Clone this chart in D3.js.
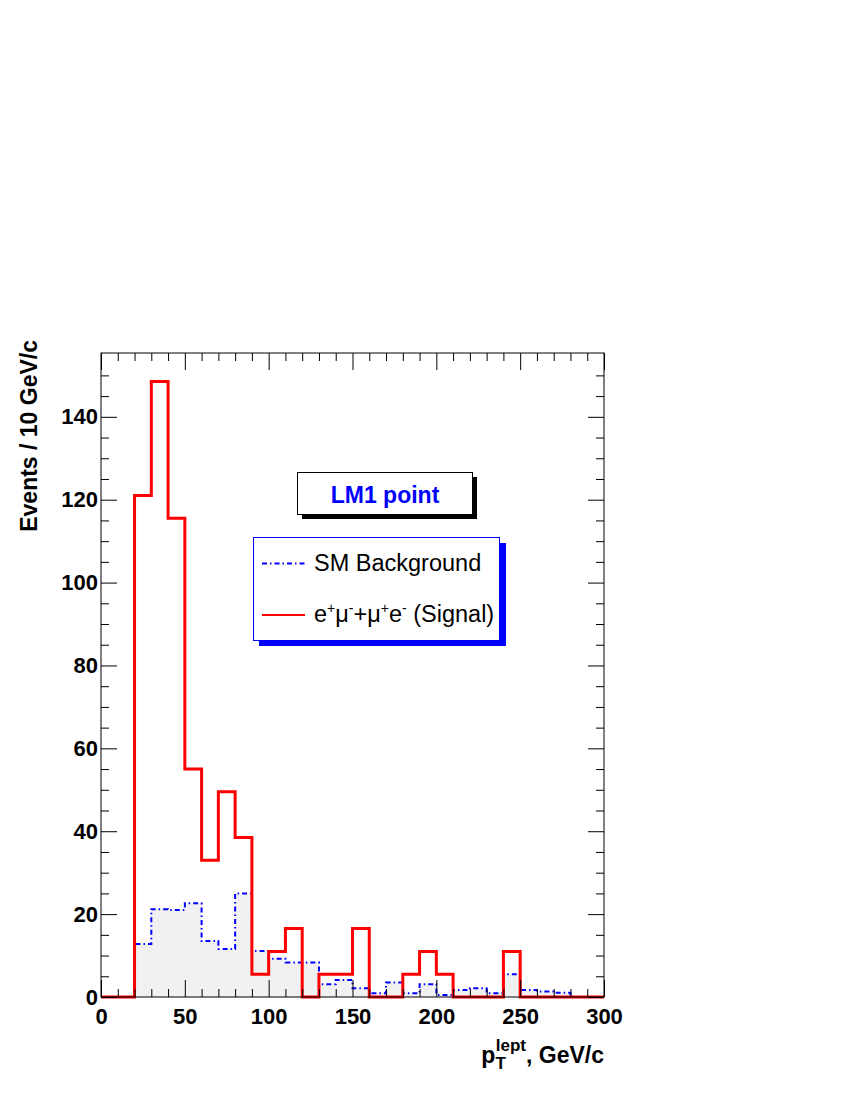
<!DOCTYPE html>
<html>
<head>
<meta charset="utf-8">
<script src="https://cdn.jsdelivr.net/npm/d3@7/dist/d3.min.js"></script>
<style>
	body { margin: 0; background: #fff; }
	svg { display: block; }
	text { font-family: "Liberation Sans", Arial, Helvetica, sans-serif; }
</style>
</head>
<body>
<div id="chart"></div>
<script>
// Bin edges (GeV/c), 10 GeV bins from 0 to 300
var binEdges = d3.range(0, 301, 10);
// SM background per bin
var background = [0, 0, 12.8, 21.2, 21.0, 22.6, 13.5, 11.6, 25.0, 11.1,
	9.2, 8.3, 8.3, 3.1, 4.1, 2.1, 0.9, 3.5, 0.9, 3.1,
	0.5, 1.7, 2.1, 0.9, 5.5, 1.7, 1.3, 1.0, 0, 0];
// Signal e+mu- + mu+e- per bin
var signal = [0, 0, 121, 148.5, 115.5, 55, 33, 49.5, 38.5, 5.5,
	11, 16.5, 0, 5.5, 5.5, 16.5, 0, 0, 5.5, 11,
	5.5, 0, 0, 0, 11, 0, 0, 0, 0, 0];
var xTicks = [0, 50, 100, 150, 200, 250, 300];
var yTicks = [0, 20, 40, 60, 80, 100, 120, 140];

var total_width = 850;
var total_height = 1100;
var frame = { left: 101, right: 604, top: 353, bottom: 997 };

var svg = d3.select('#chart')
	.append('svg')
	.attr('width', total_width)
	.attr('height', total_height);

var x = d3.scaleLinear().domain([0, 300]).range([frame.left, frame.right]);
var y = d3.scaleLinear().domain([0, 155.4]).range([frame.bottom, frame.top]);

// Build step outline of a histogram
function stepPoints(vals) {
	var pts = [];
	for (var i = 0; i < vals.length; i++) {
		pts.push([binEdges[i], vals[i]]);
		pts.push([binEdges[i + 1], vals[i]]);
	}
	return pts;
}

var line = d3.line()
	.x(function(d) { return x(d[0]); })
	.y(function(d) { return y(d[1]); });

var area = d3.area()
	.x(function(d) { return x(d[0]); })
	.y0(y(0))
	.y1(function(d) { return y(d[1]); });

// Background fill
svg.append('path')
	.datum(stepPoints(background))
	.attr('d', area)
	.attr('fill', '#f1f1f1')
	.attr('stroke', 'none');

// Background outline
svg.append('path')
	.datum(stepPoints(background))
	.attr('d', line)
	.attr('fill', 'none')
	.attr('stroke', '#0000ff')
	.attr('stroke-width', 2)
	.attr('stroke-dasharray', '5,3,1.5,3');

// Signal outline
svg.append('path')
	.datum(stepPoints(signal))
	.attr('d', line)
	.attr('fill', 'none')
	.attr('stroke', '#ff0000')
	.attr('stroke-width', 3);

// Frame
svg.append('rect')
	.attr('x', frame.left)
	.attr('y', frame.top)
	.attr('width', frame.right - frame.left)
	.attr('height', frame.bottom - frame.top)
	.attr('fill', 'none')
	.attr('stroke', '#000')
	.attr('stroke-width', 1);

// Axes with ticks drawn inward
var xMinor = d3.range(0, 301, 10).filter(function(d) { return d % 50 != 0; });
var yMinor = d3.range(0, 155, 5).filter(function(d) { return d % 20 != 0; });

svg.append('g')
	.attr('transform', 'translate(0,' + frame.bottom + ')')
	.call(d3.axisBottom(x).tickValues(xTicks).tickSize(-17).tickPadding(10).tickFormat(d3.format('d')))
	.call(function(g) {
		g.select('.domain').remove();
		g.selectAll('text').attr('font-size', 22).attr('font-weight', 'bold').attr('fill', '#000')
			.attr('font-family', '"Liberation Sans", Arial, sans-serif').attr('dy', '0.75em');
		g.selectAll('line').attr('stroke', '#000');
	});
svg.append('g')
	.attr('transform', 'translate(0,' + frame.bottom + ')')
	.call(d3.axisBottom(x).tickValues(xMinor).tickSize(-8).tickFormat(''))
	.call(function(g) { g.select('.domain').remove(); g.selectAll('line').attr('stroke', '#000'); });

svg.append('g')
	.attr('transform', 'translate(0,' + frame.top + ')')
	.call(d3.axisTop(x).tickValues(xTicks).tickSize(-17).tickFormat(''))
	.call(function(g) { g.select('.domain').remove(); g.selectAll('line').attr('stroke', '#000'); });
svg.append('g')
	.attr('transform', 'translate(0,' + frame.top + ')')
	.call(d3.axisTop(x).tickValues(xMinor).tickSize(-8).tickFormat(''))
	.call(function(g) { g.select('.domain').remove(); g.selectAll('line').attr('stroke', '#000'); });

svg.append('g')
	.attr('transform', 'translate(' + frame.left + ',0)')
	.call(d3.axisLeft(y).tickValues(yTicks).tickSize(-16).tickPadding(4).tickFormat(d3.format('d')))
	.call(function(g) {
		g.select('.domain').remove();
		g.selectAll('text').attr('font-size', 22).attr('font-weight', 'bold').attr('fill', '#000')
			.attr('font-family', '"Liberation Sans", Arial, sans-serif').attr('x', -3);
		g.selectAll('line').attr('stroke', '#000');
	});
svg.append('g')
	.attr('transform', 'translate(' + frame.left + ',0)')
	.call(d3.axisLeft(y).tickValues(yMinor).tickSize(-8).tickFormat(''))
	.call(function(g) { g.select('.domain').remove(); g.selectAll('line').attr('stroke', '#000'); });

svg.append('g')
	.attr('transform', 'translate(' + frame.right + ',0)')
	.call(d3.axisRight(y).tickValues(yTicks).tickSize(-16).tickFormat(''))
	.call(function(g) { g.select('.domain').remove(); g.selectAll('line').attr('stroke', '#000'); });
svg.append('g')
	.attr('transform', 'translate(' + frame.right + ',0)')
	.call(d3.axisRight(y).tickValues(yMinor).tickSize(-8).tickFormat(''))
	.call(function(g) { g.select('.domain').remove(); g.selectAll('line').attr('stroke', '#000'); });

// Y axis title
svg.append('text')
	.attr('transform', 'translate(37,340) rotate(-90)')
	.attr('text-anchor', 'end')
	.attr('font-size', 23)
	.attr('font-weight', 'bold')
	.text('Events / 10 GeV/c');

// X axis title
var xt = svg.append('text')
	.attr('x', frame.right)
	.attr('y', 1063)
	.attr('text-anchor', 'end')
	.attr('font-size', 23)
	.attr('font-weight', 'bold');
xt.append('tspan').text('p');
xt.append('tspan').attr('font-size', 17).attr('dy', 6).text('T');
xt.append('tspan').attr('font-size', 17).attr('dx', -10).attr('dy', -18).text('lept');
xt.append('tspan').attr('dy', 12).text(', GeV/c');

// LM1 point box with shadow
svg.append('rect')
	.attr('x', 302).attr('y', 477).attr('width', 175).attr('height', 42)
	.attr('fill', '#000');
svg.append('rect')
	.attr('x', 297.5).attr('y', 472.5).attr('width', 175).attr('height', 42)
	.attr('fill', '#fff').attr('stroke', '#000').attr('stroke-width', 1);
svg.append('text')
	.attr('x', 385).attr('y', 503)
	.attr('text-anchor', 'middle')
	.attr('font-size', 23)
	.attr('font-weight', 'bold')
	.attr('fill', '#0000ff')
	.text('LM1 point');

// Legend box with shadow
svg.append('rect')
	.attr('x', 259).attr('y', 543).attr('width', 247).attr('height', 103)
	.attr('fill', '#0000ff');
svg.append('rect')
	.attr('x', 253.5).attr('y', 537.5).attr('width', 246).attr('height', 103)
	.attr('fill', '#fff').attr('stroke', '#0000ff').attr('stroke-width', 1);

svg.append('line')
	.attr('x1', 262).attr('x2', 305).attr('y1', 563.5).attr('y2', 563.5)
	.attr('stroke', '#0000ff').attr('stroke-width', 2).attr('stroke-dasharray', '5,3,1.5,3');
svg.append('text')
	.attr('x', 314).attr('y', 571)
	.attr('font-size', 23.5)
	.text('SM Background');

svg.append('line')
	.attr('x1', 262).attr('x2', 305).attr('y1', 615).attr('y2', 615)
	.attr('stroke', '#ff0000').attr('stroke-width', 2);
var st = svg.append('text')
	.attr('x', 314).attr('y', 622)
	.attr('font-size', 23.5);
st.append('tspan').text('e');
st.append('tspan').attr('font-size', 14).attr('dy', -9).text('+');
st.append('tspan').attr('dy', 9).text('\u03bc');
st.append('tspan').attr('font-size', 14).attr('dy', -9).text('-');
st.append('tspan').attr('dy', 9).text('+\u03bc');
st.append('tspan').attr('font-size', 14).attr('dy', -9).text('+');
st.append('tspan').attr('dy', 9).text('e');
st.append('tspan').attr('font-size', 14).attr('dy', -9).text('-');
st.append('tspan').attr('dy', 9).text(' (Signal)');
</script>
</body>
</html>
